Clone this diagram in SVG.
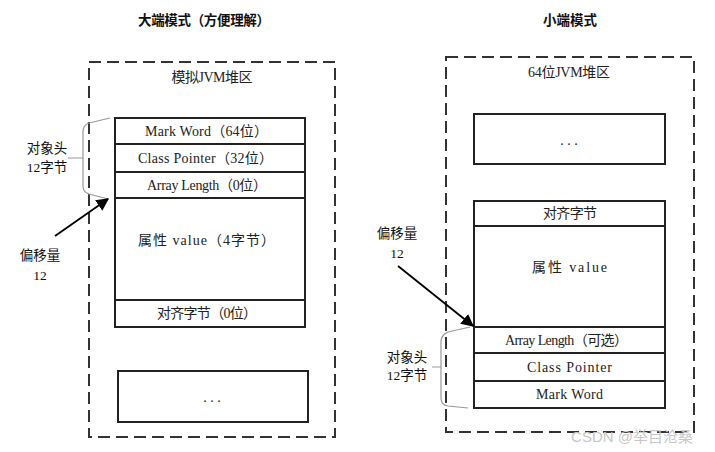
<svg xmlns="http://www.w3.org/2000/svg" width="715" height="452" viewBox="0 0 715 452">
<style>
.title{font-family:"Liberation Sans","Noto Sans CJK SC",sans-serif;font-size:13.5px;font-weight:bold;fill:#111;text-anchor:middle}
.t{font-family:"Liberation Serif","Noto Sans CJK SC",serif;font-size:14px;fill:#222;text-anchor:middle}
.lab{font-family:"Liberation Serif","Noto Sans CJK SC",serif;font-size:13.5px;fill:#111;text-anchor:middle}
.heap{fill:none;stroke:#333;stroke-width:2;stroke-dasharray:12,6}
.box{fill:#fff;stroke:#222;stroke-width:2}
.brace{fill:none;stroke:#999;stroke-width:1.2}
.arrow{stroke:#000;stroke-width:1.8;fill:none;marker-end:url(#ah)}
</style>
<defs>
<marker id="ah" viewBox="0 0 10 10" refX="9" refY="5" markerWidth="7" markerHeight="7" orient="auto" markerUnits="strokeWidth">
<path d="M0,0 L10,5 L0,10 z" fill="#000"/>
</marker>
</defs>
<rect width="715" height="452" fill="#fff"/>

<g id="left-panel">
<text class="title" x="204" y="25" textLength="132" lengthAdjust="spacing">大端模式（方便理解）</text>
<rect class="heap" x="89" y="62" width="246" height="375"/>
<text class="t" x="212" y="82" textLength="81" lengthAdjust="spacing">模拟JVM堆区</text>
</g>
<g id="left-markword"><rect class="box" x="115" y="118" width="190" height="26"/><text class="t" x="206.5" y="136" textLength="123" lengthAdjust="spacing">Mark Word（64位）</text></g>
<g id="left-classpointer"><rect class="box" x="115" y="144" width="190" height="28"/><text class="t" x="205.5" y="163" textLength="135" lengthAdjust="spacing">Class Pointer（32位）</text></g>
<g id="left-arraylength"><rect class="box" x="115" y="172" width="190" height="26"/><text class="t" x="207" y="190" textLength="120" lengthAdjust="spacing">Array Length（0位）</text></g>
<g id="left-value"><rect class="box" x="115" y="198" width="190" height="102"/><text class="t" x="206.5" y="245" textLength="137" lengthAdjust="spacing">属性 value（4字节）</text></g>
<g id="left-padding"><rect class="box" x="115" y="300" width="190" height="27"/><text class="t" x="207" y="318" textLength="100" lengthAdjust="spacing">对齐字节（0位）</text></g>
<g id="left-more"><rect class="box" x="118" y="371" width="190" height="51"/><text class="t" x="212" y="402">. . .</text></g>
<g id="left-header-label">
<text class="lab" x="47" y="153">对象头</text>
<text class="lab" x="47" y="172">12字节</text>
</g>
<g id="left-offset-label">
<text class="lab" x="40" y="260">偏移量</text>
<text class="lab" x="40" y="280">12</text>
</g>

<g id="right-panel">
<text class="title" x="570" y="25" textLength="54" lengthAdjust="spacing">小端模式</text>
<rect class="heap" x="446" y="57" width="248" height="375"/>
<text class="t" x="569" y="77" textLength="82" lengthAdjust="spacing">64位JVM堆区</text>
</g>
<g id="right-more"><rect class="box" x="474" y="114" width="191" height="50"/><text class="t" x="569" y="145">. . .</text></g>
<g id="right-padding"><rect class="box" x="474" y="201" width="191" height="25"/><text class="t" x="570" y="218" textLength="54" lengthAdjust="spacing">对齐字节</text></g>
<g id="right-value"><rect class="box" x="474" y="226" width="191" height="101"/><text class="t" x="569.5" y="272" textLength="75" lengthAdjust="spacing">属性 value</text></g>
<g id="right-arraylength"><rect class="box" x="474" y="327" width="191" height="26"/><text class="t" x="566.5" y="345" textLength="123" lengthAdjust="spacing">Array Length（可选）</text></g>
<g id="right-classpointer"><rect class="box" x="474" y="353" width="191" height="28"/><text class="t" x="569.5" y="372" textLength="85" lengthAdjust="spacing">Class Pointer</text></g>
<g id="right-markword"><rect class="box" x="474" y="381" width="191" height="27"/><text class="t" x="569.5" y="399" textLength="67" lengthAdjust="spacing">Mark Word</text></g>
<g id="right-offset-label">
<text class="lab" x="397" y="238">偏移量</text>
<text class="lab" x="397" y="258">12</text>
</g>
<g id="right-header-label">
<text class="lab" x="407" y="362">对象头</text>
<text class="lab" x="407" y="380">12字节</text>
</g>

<g id="connectors">
<path class="brace" d="M110,118 L89,123 Q83,125 83,132 L83,186 Q83,192 89,194 L108,199 M68,158 L83,158"/>
<path class="arrow" d="M55,236 L108,199"/>
<path class="brace" d="M470,327 L448,332 Q441,335 441,342 L441,398 Q441,405 448,406 L468,408 M432,367 L441,367"/>
<path class="arrow" d="M398,266 L473,326"/>
</g>

<text x="632" y="442" style="font-family:'Liberation Sans','Noto Sans CJK SC',sans-serif;font-size:15px;fill:#c8c8c8;text-anchor:middle">CSDN @举目沧桑</text>
</svg>
